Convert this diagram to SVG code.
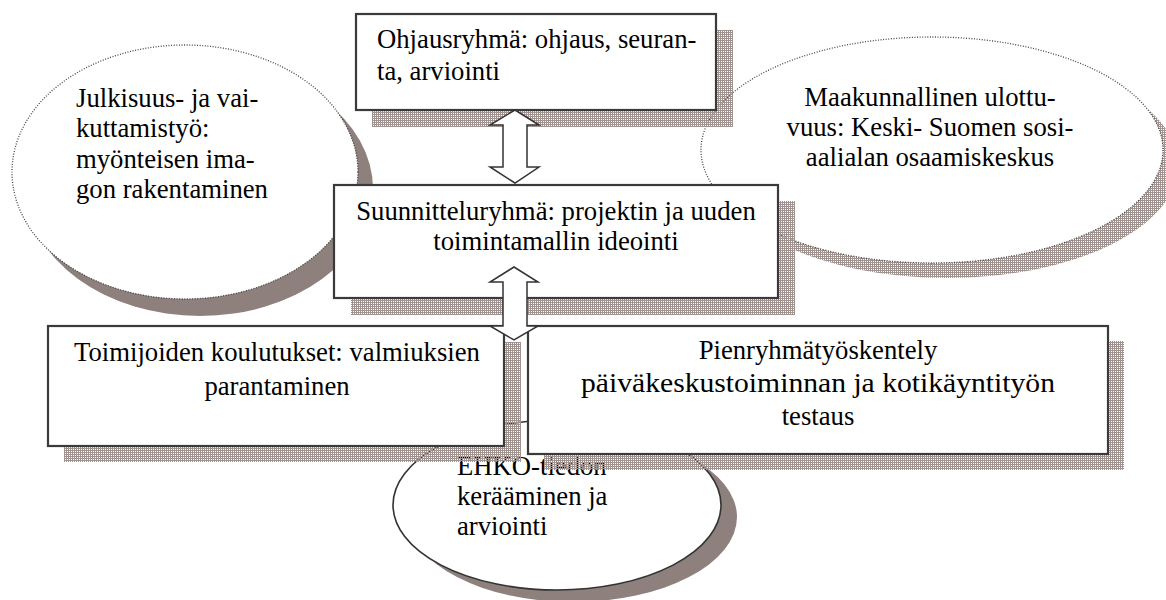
<svg xmlns="http://www.w3.org/2000/svg" width="1166" height="600" viewBox="0 0 1166 600">
<defs>
<pattern id="hatch" width="2" height="2" patternUnits="userSpaceOnUse">
<rect x="0" y="0" width="2" height="1" fill="#a0928f"/>
<rect x="0" y="0" width="1" height="2" fill="#a0928f"/>
</pattern>
<style>
text{font-family:'Liberation Serif','DejaVu Serif',serif;font-size:26.7px;fill:#000}
.c{text-anchor:middle}
.box{fill:#fff;stroke:#3a3a3a;stroke-width:2.2}
.hs{fill:url(#hatch)}
.ss{fill:#8e807d}
.dot{fill:#fff;stroke:#444;stroke-width:1.3;stroke-dasharray:1 1.6}
.sol{fill:#fff;stroke:#333;stroke-width:1.6}
.arr{fill:#fff;stroke:#333;stroke-width:1.5;stroke-linejoin:miter}
</style>
</defs>
<rect width="1166" height="600" fill="#fff"/>

<g id="julkisuus" font-family="Liberation Serif, serif">
<ellipse class="ss" cx="200" cy="189" rx="173" ry="127"/>
<ellipse class="dot" cx="185" cy="172" rx="173" ry="127"/>
<text font-family="Liberation Serif, serif" x="76" y="107">Julkisuus- ja vai-</text>
<text font-family="Liberation Serif, serif" x="76" y="137">kuttamistyö:</text>
<text font-family="Liberation Serif, serif" x="76" y="168">myönteisen ima-</text>
<text font-family="Liberation Serif, serif" x="76" y="198">gon rakentaminen</text>
</g>

<g id="maakunnallinen">
<ellipse class="hs" cx="947" cy="165" rx="231" ry="113"/>
<ellipse class="dot" cx="932" cy="150" rx="231" ry="113"/>
<text class="c" font-family="Liberation Serif, serif" x="930" y="106">Maakunnallinen ulottu-</text>
<text class="c" font-family="Liberation Serif, serif" x="930" y="136">vuus: Keski- Suomen sosi-</text>
<text class="c" font-family="Liberation Serif, serif" x="930" y="166">aalialan osaamiskeskus</text>
</g>

<g id="ehko">
<ellipse class="ss" cx="573" cy="517" rx="164" ry="85"/>
<ellipse class="sol" cx="557" cy="505" rx="164" ry="85"/>
<text font-family="Liberation Serif, serif" x="457" y="475">EHKO-tiedon</text>
<text font-family="Liberation Serif, serif" x="457" y="505">kerääminen ja</text>
<text font-family="Liberation Serif, serif" x="457" y="535">arviointi</text>
</g>

<g id="ohjausryhma">
<rect class="hs" x="372" y="30" width="361" height="97"/>
<rect class="box" x="356" y="14" width="360" height="96"/>
<text font-family="Liberation Serif, serif" x="377" y="48">Ohjausryhmä: ohjaus, seuran-</text>
<text font-family="Liberation Serif, serif" x="377" y="80">ta, arviointi</text>
</g>

<g id="suunnitteluryhma">
<rect class="hs" x="351" y="201" width="444" height="114"/>
<rect class="box" x="334" y="185" width="444" height="113"/>
<text class="c" font-family="Liberation Serif, serif" x="556" y="220">Suunnitteluryhmä: projektin ja uuden</text>
<text class="c" font-family="Liberation Serif, serif" x="556" y="250">toimintamallin ideointi</text>
</g>

<g id="toimijoiden">
<rect class="hs" x="64" y="342" width="457" height="120"/>
<rect class="box" x="48" y="326" width="456" height="120"/>
<text class="c" font-family="Liberation Serif, serif" x="277" y="361">Toimijoiden koulutukset: valmiuksien</text>
<text class="c" font-family="Liberation Serif, serif" x="277" y="395">parantaminen</text>
</g>

<g id="pienryhma">
<rect class="hs" x="544" y="341" width="580" height="129"/>
<rect class="box" x="528" y="326" width="580" height="128"/>
<text class="c" font-family="Liberation Serif, serif" x="818" y="359">Pienryhmätyöskentely</text>
<text class="c" font-family="Liberation Serif, serif" x="818" y="392" textLength="474" lengthAdjust="spacingAndGlyphs">päiväkeskustoiminnan ja kotikäyntityön</text>
<text class="c" font-family="Liberation Serif, serif" x="818" y="425">testaus</text>
</g>

<g id="connectors">
<polygon class="arr" points="515,110 539,125 527,125 527,167 539,167 515,183 490,167 503,167 503,125 490,125"/>
<polygon class="arr" points="514,267 538,282 527,282 527,326 538,326 514,340 490,326 503,326 503,282 490,282"/>
</g>
</svg>
